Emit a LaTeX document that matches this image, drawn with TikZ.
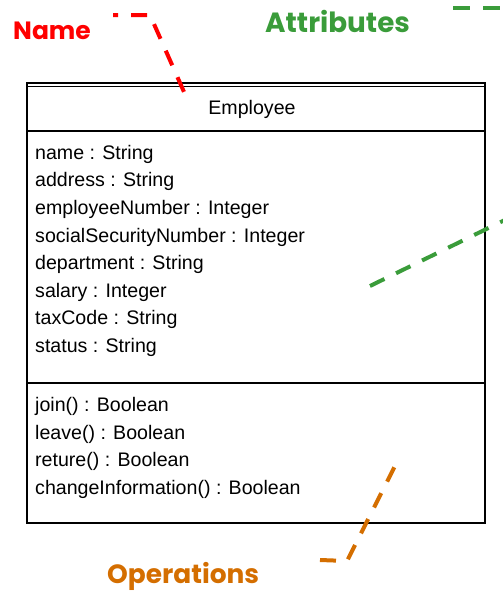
\documentclass[tikz,border=0pt]{standalone}
\usepackage{fontspec}
\usepackage{xcolor}
\usepackage{tikz}
\setmainfont{Liberation Sans}
\newfontfamily\notefont{Poppins}

\definecolor{namered}{RGB}{255,0,0}
\definecolor{attrgreen}{RGB}{58,156,58}
\definecolor{opsorange}{RGB}{212,110,0}

\tikzset{
  member/.style={anchor=base west,inner sep=0pt,font=\fontsize{19.6}{23}\selectfont},
  note/.style={anchor=base west,inner sep=0pt,font=\notefont\bfseries\fontsize{25}{30}\selectfont},
  callout/.style={line width=4pt,dash pattern=on 16pt off 13pt}
}

\begin{document}
\begin{tikzpicture}[x=1pt,y=-1pt]
  \useasboundingbox (0,0) rectangle (503,592);

  \draw[line width=2pt] (27,83) rectangle (485,523);
  \draw[line width=0.8pt] (27,86.5) -- (485,86.5);
  \draw[line width=1.6pt] (27,131) -- (485,131);
  \draw[line width=1.6pt] (27,383) -- (485,383);

  \node[anchor=base,inner sep=0pt,font=\fontsize{19.6}{23}\selectfont] (cls) at (252,114) {Employee};

  \node[member] (a1) at (35,159.3) {name : String};
  \node[member] (a2) at (35,186.9) {address : String};
  \node[member] (a3) at (35,214.5) {employeeNumber : Integer};
  \node[member] (a4) at (35,242.1) {socialSecurityNumber : Integer};
  \node[member] (a5) at (35,269.7) {department : String};
  \node[member] (a6) at (35,297.3) {salary : Integer};
  \node[member] (a7) at (35,324.9) {taxCode : String};
  \node[member] (a8) at (35,352.5) {status : String};

  \node[member] (o1) at (35,411.7) {join() : Boolean};
  \node[member] (o2) at (35,439.3) {leave() : Boolean};
  \node[member] (o3) at (35,466.9) {reture() : Boolean};
  \node[member] (o4) at (35,494.5) {changeInformation() : Boolean};

  \node[note,text=namered] (namelbl) at (13,39) {Name};
  \node[note,text=attrgreen,font=\notefont\bfseries\fontsize{27.8}{30}\selectfont] (attrlbl) at (265,32) {Attributes};
  \node[note,text=opsorange,font=\notefont\bfseries\fontsize{26.4}{30}\selectfont] (opslbl) at (107,583) {Operations};

  \coordinate (n0) at (113,15);
  \coordinate (n1) at (150,15);
  \coordinate (n2) at (188,101);
  \draw[callout,namered,dash phase=11pt] (n0) -- (n1) -- (n2);

  \fill[attrgreen] (453,6) rectangle (470,10);
  \fill[attrgreen] (483,6) rectangle (500,10);

  \begin{scope}
    \clip (0,0) rectangle (503,592);
    \coordinate (g4) at (370,286);
    \coordinate (g5) at (515,215);
    \draw[callout,attrgreen] (g4) -- (g5);
  \end{scope}

  \coordinate (p0) at (320,560);
  \coordinate (p1) at (347,561);
  \coordinate (p2) at (397,462);
  \draw[callout,opsorange] (p0) -- (p1) -- (p2);
\end{tikzpicture}
\end{document}
